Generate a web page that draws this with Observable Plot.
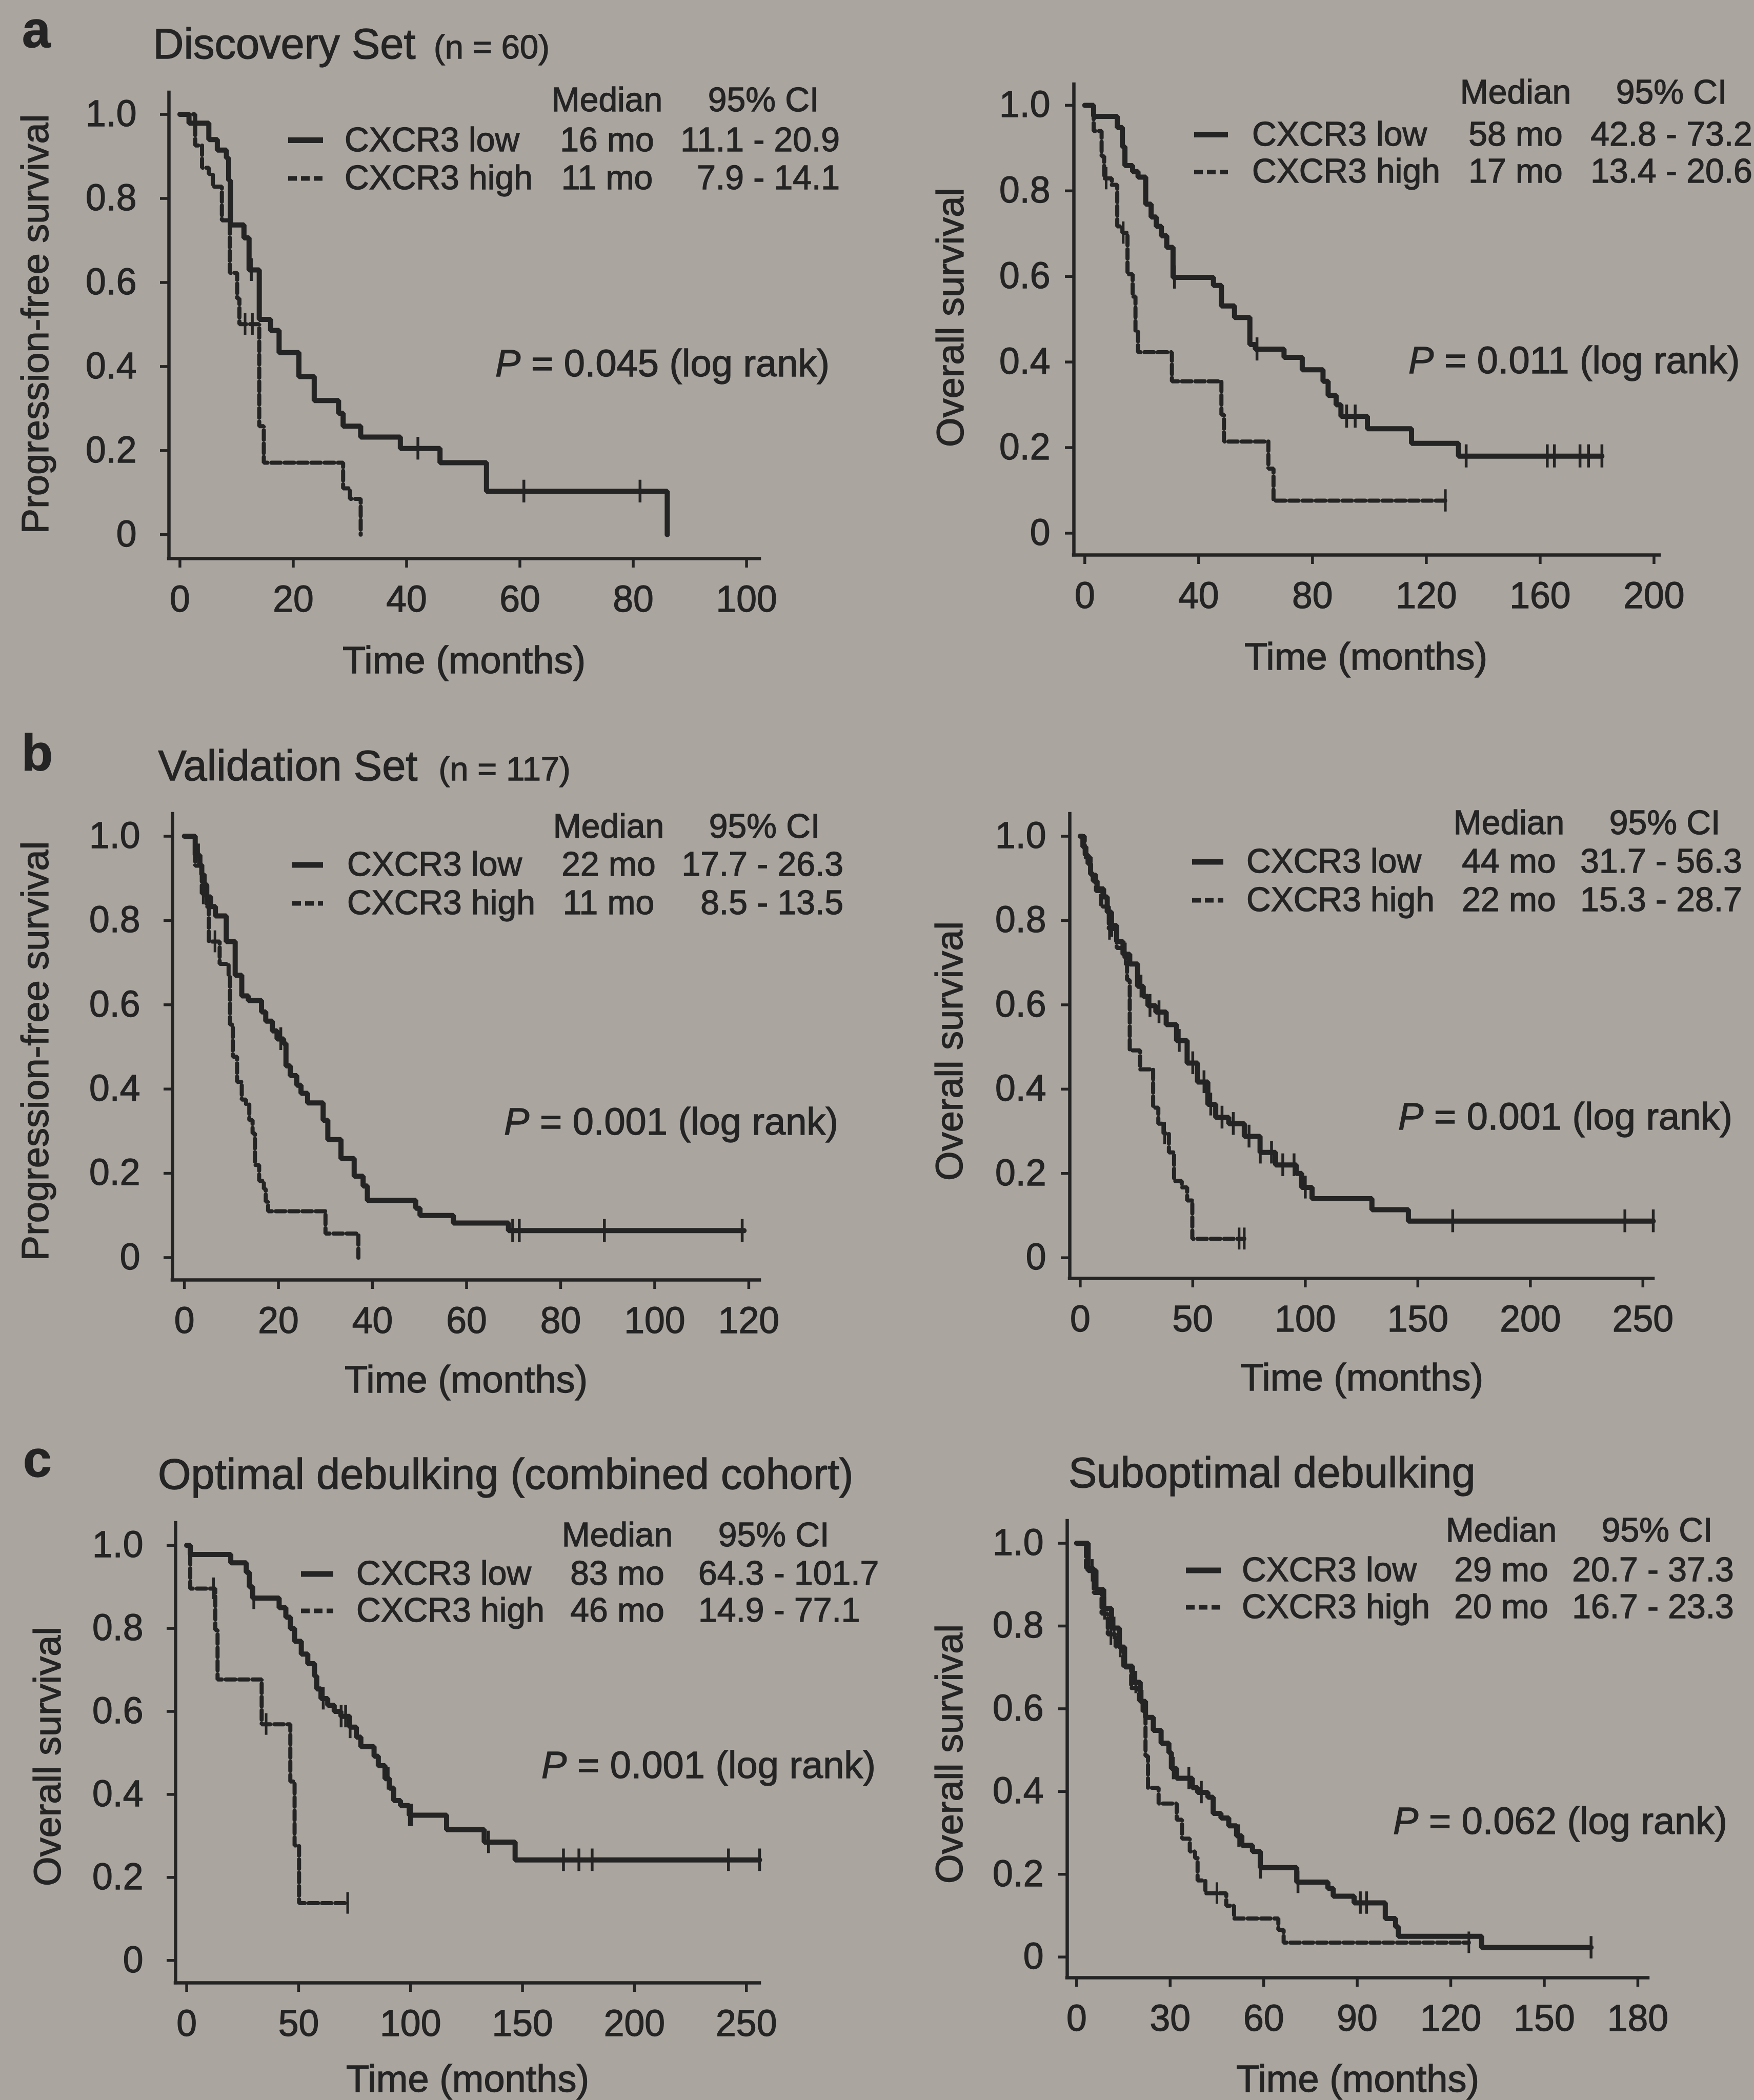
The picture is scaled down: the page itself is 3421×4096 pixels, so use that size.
<!DOCTYPE html>
<html><head><meta charset="utf-8">
<script src="https://cdn.jsdelivr.net/npm/d3@7"></script>
<script src="https://cdn.jsdelivr.net/npm/@observablehq/plot@0.6"></script>
<style>
html,body{margin:0;padding:0;background:#aaa59f;}
#fig{position:relative;width:3421px;height:4096px;overflow:hidden;background:#aaa59f;}
.pnl{position:absolute;}
#ov{position:absolute;left:0;top:0;pointer-events:none;}
#fig text{stroke:#242424;stroke-width:1.3px;}
</style></head>
<body><div id="fig"></div>
<script>
// ---------------- DATA ----------------
const groups = ["CXCR3 low", "CXCR3 high"];
const yTicks = [0, 0.2, 0.4, 0.6, 0.8, 1.0];

// a (Discovery, PFS)
const ticksA1 = [0, 20, 40, 60, 80, 100];
const a1LowT = [0, 1.6, 5.1, 6.6, 8.2, 8.6, 8.9, 11.3, 12.2, 14.0, 16.0, 17.5, 21.0, 23.7, 28.0, 28.8, 31.9, 38.9, 45.9, 54.1, 86.0];
const a1LowS = [1, 0.979, 0.94, 0.915, 0.896, 0.843, 0.737, 0.706, 0.63, 0.512, 0.486, 0.433, 0.376, 0.319, 0.289, 0.258, 0.232, 0.205, 0.171, 0.103, 0];
const a1LowCens = [12.6, 42.0, 60.7, 81.2];
const a1HighT = [0, 2.7, 3.9, 5.1, 5.8, 7.4, 8.8, 10.1, 10.5, 14.0, 14.8, 28.8, 30.0, 31.9];
const a1HighS = [1, 0.926, 0.873, 0.858, 0.828, 0.748, 0.623, 0.562, 0.501, 0.258, 0.171, 0.11, 0.085, 0];
const a1HighCens = [11.5, 12.8];
const a1Median = ["16 mo", "11 mo"];
const a1CI = ["11.1 - 20.9", "7.9 - 14.1"];
const a1P = "0.045";

// a (Discovery, OS)
const ticksA2 = [0, 40, 80, 120, 160, 200];
const a2LowT = [0, 3.1, 11.4, 13.2, 14.1, 16.8, 18.7, 21.4, 23.3, 25.1, 26.9, 28.8, 31.0, 45.2, 48.0, 52.6, 58.0, 59.9, 70.0, 76.4, 83.7, 85.5, 88.3, 90.0, 99.3, 114.8, 131.3];
const a2LowS = [1, 0.974, 0.948, 0.903, 0.859, 0.845, 0.832, 0.769, 0.739, 0.717, 0.695, 0.668, 0.598, 0.579, 0.531, 0.504, 0.441, 0.43, 0.411, 0.382, 0.355, 0.322, 0.3, 0.273, 0.244, 0.21, 0.18];
const a2LowEnd = 181.7;
const a2LowCens = [31.5, 60.5, 92, 95, 134, 162.5, 165, 174, 177, 181.7];
const a2HighT = [0, 3.1, 5.9, 6.8, 9.5, 11.4, 13.2, 15.0, 16.8, 17.8, 18.7, 30.6, 48.0, 48.9, 64.5, 66.3];
const a2HighS = [1, 0.94, 0.881, 0.829, 0.814, 0.717, 0.702, 0.605, 0.553, 0.471, 0.423, 0.355, 0.277, 0.214, 0.151, 0.076];
const a2HighEnd = 126.7;
const a2HighCens = [7.5, 13.5, 126.7];
const a2Median = ["58 mo", "17 mo"];
const a2CI = ["42.8 - 73.2", "13.4 - 20.6"];
const a2P = "0.011";

// b (Validation, PFS)
const ticksB1 = [0, 20, 40, 60, 80, 100, 120];
const b1LowT = [0, 2.3, 3.3, 3.7, 4.2, 4.7, 5.6, 6.6, 8.9, 10.8, 12.2, 13.6, 16.4, 17.3, 18.7, 19.7, 21.1, 21.6, 22.5, 23.9, 24.8, 26.2, 29.5, 30.5, 33.3, 36.1, 38.0, 38.9, 49.2, 50.1, 57.2, 68.9];
const b1LowS = [1, 0.955, 0.932, 0.909, 0.886, 0.856, 0.833, 0.811, 0.75, 0.67, 0.621, 0.61, 0.583, 0.561, 0.538, 0.519, 0.508, 0.455, 0.432, 0.409, 0.39, 0.367, 0.326, 0.28, 0.235, 0.193, 0.17, 0.136, 0.117, 0.1, 0.082, 0.064];
const b1LowEnd = 119;
const b1LowCens = [3.0, 5.0, 20.5, 69.8, 71.2, 89.3, 118.6];
const b1HighT = [0, 2.3, 3.7, 4.7, 5.2, 7.5, 9.4, 9.7, 10.3, 11.2, 12.2, 13.1, 13.8, 14.5, 15.0, 15.9, 16.9, 17.3, 17.8, 30.0, 37.0];
const b1HighS = [1, 0.93, 0.864, 0.833, 0.75, 0.697, 0.67, 0.553, 0.477, 0.417, 0.375, 0.364, 0.326, 0.295, 0.22, 0.182, 0.163, 0.133, 0.11, 0.057, 0];
const b1HighCens = [4.0, 6.5];
const b1Median = ["22 mo", "11 mo"];
const b1CI = ["17.7 - 26.3", "8.5 - 13.5"];
const b1P = "0.001";

// b (Validation, OS)
const ticksB2 = [0, 50, 100, 150, 200, 250];
const b2LowT = [0, 1.2, 2.5, 3.5, 4.6, 5.8, 7.5, 10.4, 12.0, 13.9, 16.2, 19.0, 22.0, 25.5, 28.0, 30.1, 33.6, 38.2, 42.8, 47.5, 52.1, 56.7, 60.2, 66.0, 72.9, 79.9, 86.8, 96.0, 98.4, 103.0, 129.6, 145.8];
const b2LowS = [1, 0.975, 0.955, 0.935, 0.91, 0.894, 0.875, 0.856, 0.82, 0.788, 0.75, 0.72, 0.697, 0.644, 0.62, 0.598, 0.583, 0.553, 0.515, 0.462, 0.417, 0.364, 0.333, 0.318, 0.288, 0.25, 0.22, 0.2, 0.167, 0.14, 0.114, 0.087];
const b2LowEnd = 254.6;
const b2LowCens = [14, 20, 27, 31, 35, 44, 50, 55, 58, 63, 68, 75, 80, 85, 90, 95, 100, 165.5, 242, 254.6];
const b2HighT = [0, 2.0, 4.6, 7.0, 9.3, 12.7, 16.2, 19.7, 20.8, 22.0, 26.6, 32.4, 34.7, 37.0, 39.4, 41.7, 45.1, 47.5, 49.8];
const b2HighS = [1, 0.95, 0.909, 0.87, 0.833, 0.78, 0.735, 0.712, 0.659, 0.492, 0.447, 0.356, 0.318, 0.295, 0.25, 0.182, 0.167, 0.136, 0.045];
const b2HighEnd = 72.9;
const b2HighCens = [13, 37.5, 70.6, 72.9];
const b2Median = ["44 mo", "22 mo"];
const b2CI = ["31.7 - 56.3", "15.3 - 28.7"];
const b2P = "0.001";

// c (Optimal debulking, OS)
const ticksC1 = [0, 50, 100, 150, 200, 250];
const c1LowT = [0, 1.6, 19.7, 26.6, 28.0, 29.5, 41.3, 44.3, 46.3, 48.2, 51.2, 54.1, 57.1, 58.1, 60.0, 63.0, 65.9, 68.9, 72.8, 75.8, 77.8, 83.7, 85.6, 88.6, 90.6, 92.5, 95.5, 99.4, 116.1, 132.9, 146.7];
const c1LowS = [1, 0.978, 0.958, 0.935, 0.9, 0.873, 0.85, 0.827, 0.8, 0.769, 0.738, 0.715, 0.685, 0.654, 0.631, 0.615, 0.6, 0.588, 0.562, 0.538, 0.515, 0.492, 0.469, 0.438, 0.415, 0.385, 0.373, 0.35, 0.315, 0.285, 0.242];
const c1LowEnd = 255.9;
const c1LowCens = [30, 61, 69, 71, 73, 90, 99.5, 100.5, 134.8, 168.3, 175.2, 181.1, 242, 255.9];
const c1HighT = [0, 1.6, 12.8, 13.8, 33.5, 46.3, 48.2, 50.2];
const c1HighS = [1, 0.896, 0.796, 0.677, 0.569, 0.431, 0.277, 0.138];
const c1HighEnd = 71.9;
const c1HighCens = [12.0, 35.5, 71.9];
const c1Median = ["83 mo", "46 mo"];
const c1CI = ["64.3 - 101.7", "14.9 - 77.1"];
const c1P = "0.001";

// c (Suboptimal debulking, OS)
const ticksC2 = [0, 30, 60, 90, 120, 150, 180];
const c2LowT = [0, 3.7, 6.2, 8.7, 11.2, 13.7, 15.4, 17.9, 20.4, 22.1, 24.6, 27.1, 29.6, 30.4, 32.1, 37.1, 38.8, 42.1, 43.8, 46.3, 48.8, 51.3, 53.0, 56.4, 58.9, 70.6, 80.6, 82.3, 89.0, 99.0, 102.3, 103.2, 129.9];
const c2LowS = [1, 0.934, 0.888, 0.842, 0.795, 0.749, 0.703, 0.664, 0.618, 0.579, 0.548, 0.517, 0.494, 0.456, 0.432, 0.409, 0.398, 0.386, 0.347, 0.336, 0.317, 0.293, 0.27, 0.255, 0.216, 0.181, 0.166, 0.147, 0.131, 0.093, 0.073, 0.05, 0.023];
const c2LowEnd = 165;
const c2LowCens = [5, 9, 12, 19, 21, 31, 36, 40, 52, 59, 71, 91, 93, 165];
const c2HighT = [0, 3.0, 5.5, 8.0, 10.0, 12.5, 15.0, 17.5, 20.0, 21.2, 22.1, 22.9, 26.3, 32.1, 33.8, 36.3, 38.0, 38.8, 41.3, 48.0, 50.5, 64.7, 66.4];
const c2HighS = [1, 0.94, 0.88, 0.83, 0.78, 0.75, 0.7, 0.65, 0.62, 0.595, 0.486, 0.409, 0.371, 0.332, 0.286, 0.255, 0.239, 0.185, 0.154, 0.124, 0.093, 0.066, 0.035];
const c2HighEnd = 125.8;
const c2HighCens = [11, 14, 45, 125.8];
const c2Median = ["29 mo", "20 mo"];
const c2CI = ["20.7 - 37.3", "16.7 - 23.3"];
const c2P = "0.062";

const letters = ["a", "b", "c"];
const setTitles = ["Discovery Set", "Validation Set"];
const setN = ["(n = 60)", "(n = 117)"];
const cTitles = ["Optimal debulking (combined cohort)", "Suboptimal debulking"];
const yLabPFS = "Progression-free survival";
const yLabOS = "Overall survival";
const xLab = "Time (months)";

// ---------------- DRAW ----------------
const INK = "#242424";
const FONT = '"Liberation Sans", Arial, Helvetica, sans-serif';
const fig = document.getElementById("fig");

function pts(T, S, end) {
  const p = T.map((t, i) => ({t, s: S[i]}));
  if (end != null) p.push({t: end, s: S[S.length - 1]});
  return p;
}
function survAt(T, S, t) { let s = S[0]; for (let i = 0; i < T.length; i++) if (T[i] <= t) s = S[i]; return s; }
function cens(T, S, C) { return C.map(t => ({t, s: survAt(T, S, t)})); }

const panels = [
  {L: 329.2, R: 1481.3, T: 179.8, B: 1088.9, xd: [-1.94, 102.3], yd: [-0.057, 1.052], xt: ticksA1, ytp: 46,
   low: pts(a1LowT, a1LowS, null), high: pts(a1HighT, a1HighS, null),
   lc: cens(a1LowT, a1LowS, a1LowCens), hc: cens(a1HighT, a1HighS, a1HighCens)},
  {L: 2093.5, R: 3235, T: 164.4, B: 1082.8, xd: [-3.84, 201.9], yd: [-0.051, 1.049], xt: ticksA2, ytp: 29,
   low: pts(a2LowT, a2LowS, a2LowEnd), high: pts(a2HighT, a2HighS, a2HighEnd),
   lc: cens(a2LowT, a2LowS, a2LowCens), hc: cens(a2HighT, a2HighS, a2HighCens)},
  {L: 336.1, R: 1481.3, T: 1587.1, B: 2496.1, xd: [-2.52, 122.3], yd: [-0.053, 1.053], xt: ticksB1, ytp: 46,
   low: pts(b1LowT, b1LowS, b1LowEnd), high: pts(b1HighT, b1HighS, null),
   lc: cens(b1LowT, b1LowS, b1LowCens), hc: cens(b1HighT, b1HighS, b1HighCens)},
  {L: 2086.4, R: 3224.8, T: 1587.1, B: 2492.9, xd: [-4.64, 254.6], yd: [-0.049, 1.053], xt: ticksB2, ytp: 29,
   low: pts(b2LowT, b2LowS, b2LowEnd), high: pts(b2HighT, b2HighS, b2HighEnd),
   lc: cens(b2LowT, b2LowS, b2LowCens), hc: cens(b2HighT, b2HighS, b2HighCens)},
  {L: 342, R: 1481.3, T: 2969.6, B: 3866.2, xd: [-4.94, 255.9], yd: [-0.054, 1.054], xt: ticksC1, ytp: 46,
   low: pts(c1LowT, c1LowS, c1LowEnd), high: pts(c1HighT, c1HighS, c1HighEnd),
   lc: cens(c1LowT, c1LowS, c1LowCens), hc: cens(c1HighT, c1HighS, c1HighCens)},
  {L: 2081.4, R: 3214.5, T: 2966.4, B: 3856.9, xd: [-3.01, 183.3], yd: [-0.05, 1.054], xt: ticksC2, ytp: 29,
   low: pts(c2LowT, c2LowS, c2LowEnd), high: pts(c2HighT, c2HighS, c2HighEnd),
   lc: cens(c2LowT, c2LowS, c2LowCens), hc: cens(c2HighT, c2HighS, c2HighCens)}
];

const mL = 220, mR = 90, mT = 10, mB = 150;
for (const p of panels) {
  const w = Math.round(p.R - p.L) + mL + mR, h = Math.round(p.B - p.T) + mT + mB;
  const chart = Plot.plot({
    width: w, height: h, marginLeft: mL, marginRight: mR, marginTop: mT, marginBottom: mB,
    style: {background: "transparent", color: INK, fontFamily: FONT, fontSize: "71.5px", overflow: "visible"},
    x: {domain: p.xd},
    y: {domain: p.yd},
    marks: [
      Plot.axisX({ticks: p.xt, tickSize: 18, tickPadding: 35, strokeWidth: 5.5, label: null, tickFormat: d => String(d), fill: INK}),
      Plot.axisY({ticks: yTicks, tickSize: 17, tickPadding: p.ytp, strokeWidth: 5.5, label: null,
        tickFormat: d => d === 0 ? "0" : d.toFixed(1), fill: INK}),
      Plot.ruleX([p.xd[0]], {stroke: INK, strokeWidth: 6.5, strokeLinecap: "square"}),
      Plot.ruleY([p.yd[0]], {stroke: INK, strokeWidth: 6.5, strokeLinecap: "square"}),
      Plot.line(p.high, {x: "t", y: "s", curve: "step-after", stroke: INK, strokeWidth: 8, strokeDasharray: "18,8", strokeLinejoin: "miter"}),
      Plot.ruleX(p.hc, {x: "t", y1: d => d.s - 0.026, y2: d => d.s + 0.026, stroke: INK, strokeWidth: 5}),
      Plot.line(p.low, {x: "t", y: "s", curve: "step-after", stroke: INK, strokeWidth: 10, strokeLinejoin: "miter"}),
      Plot.ruleX(p.lc, {x: "t", y1: d => d.s - 0.027, y2: d => d.s + 0.027, stroke: INK, strokeWidth: 5.5})
    ]
  });
  const div = document.createElement("div");
  div.className = "pnl";
  div.style.left = (p.L - mL) + "px";
  div.style.top = (p.T - mT) + "px";
  div.appendChild(chart);
  fig.appendChild(div);
}

// ---------------- TEXT OVERLAY ----------------
const svg = d3.select(fig).append("svg").attr("id", "ov").attr("width", 3421).attr("height", 4096)
  .attr("font-family", FONT).attr("fill", INK);

function txt(x, y, s, size, anchor = "start", extra = {}) {
  const t = svg.append("text").attr("x", x).attr("y", y).attr("font-size", size).attr("text-anchor", anchor).text(s);
  for (const k in extra) t.attr(k, extra[k]);
  return t;
}
function ylab(x, cy, s) {
  svg.append("text").attr("transform", `translate(${x},${cy}) rotate(-90)`).attr("text-anchor", "middle")
    .attr("font-size", 74).text(s);
}
function pval(x, y, v) {
  const t = svg.append("text").attr("x", x).attr("y", y).attr("font-size", 74);
  t.append("tspan").attr("font-style", "italic").text("P");
  t.append("tspan").text(" = " + v + " (log rank)");
}
function legend(L, med, ci) {
  txt(L.medX, L.y[0], "Median", 66, "middle");
  txt(L.ciHX, L.y[0], "95% CI", 66, "middle");
  for (let i = 0; i < 2; i++) {
    const yy = L.y[i + 1];
    const ln = svg.append("line").attr("x1", L.s1).attr("x2", L.s2).attr("y1", yy - 21).attr("y2", yy - 21)
      .attr("stroke", INK).attr("stroke-width", i === 0 ? 11 : 9);
    if (i === 1) ln.attr("stroke-dasharray", "17,8");
    txt(L.tx, yy, groups[i], 66);
    txt(L.medX, yy, med[i], 66, "middle");
    txt(L.ciX, yy, ci[i], 66, L.ciA);
  }
}

// panel letters and titles
txt(43, 92, letters[0], 100, "start", {"font-weight": "bold"});
txt(298.5, 114, setTitles[0], 83); txt(846, 114, setN[0], 65);
txt(42, 1503, letters[1], 100, "start", {"font-weight": "bold"});
txt(308.4, 1522, setTitles[1], 83); txt(855.5, 1522, setN[1], 65);
txt(45, 2880, letters[2], 100, "start", {"font-weight": "bold"});
txt(308, 2904, cTitles[0], 83);
txt(2084, 2901, cTitles[1], 83);

// legends
legend({medX: 1184, ciHX: 1489, ciX: 1638, ciA: "end", s1: 562, s2: 630, tx: 672, y: [217, 294.5, 369]}, a1Median, a1CI);
legend({medX: 2956, ciHX: 3260, ciX: 3260, ciA: "middle", s1: 2329, s2: 2395, tx: 2442, y: [201.5, 283.6, 356.4]}, a2Median, a2CI);
legend({medX: 1187, ciHX: 1491, ciX: 1645, ciA: "end", s1: 570, s2: 630, tx: 677, y: [1634, 1708, 1783]}, b1Median, b1CI);
legend({medX: 2943, ciHX: 3247, ciX: 3240, ciA: "middle", s1: 2325, s2: 2386, tx: 2431, y: [1627, 1702, 1777]}, b2Median, b2CI);
legend({medX: 1204, ciHX: 1509, ciX: 1362, ciA: "start", s1: 587, s2: 650, tx: 695, y: [3016, 3091, 3163]}, c1Median, c1CI);
legend({medX: 2928, ciHX: 3232, ciX: 3224, ciA: "middle", s1: 2313, s2: 2381, tx: 2422, y: [3007, 3084, 3156]}, c2Median, c2CI);

// p-values
pval(966, 734, a1P);
pval(2747, 728, a2P);
pval(983, 2213, b1P);
pval(2727, 2203, b2P);
pval(1056, 3468, c1P);
pval(2717, 3577, c2P);

// axis titles
ylab(93.5, 632, yLabPFS);
ylab(1879, 619, yLabOS);
ylab(93.5, 2050, yLabPFS);
ylab(1877, 2050, yLabOS);
ylab(118, 3426, yLabOS);
ylab(1877, 3421, yLabOS);
txt(905, 1313, xLab, 74, "middle");
txt(2664, 1306, xLab, 74, "middle");
txt(909, 2716, xLab, 74, "middle");
txt(2656, 2712, xLab, 74, "middle");
txt(912, 4080, xLab, 74, "middle");
txt(2648, 4080, xLab, 74, "middle");
</script>
</body></html>
